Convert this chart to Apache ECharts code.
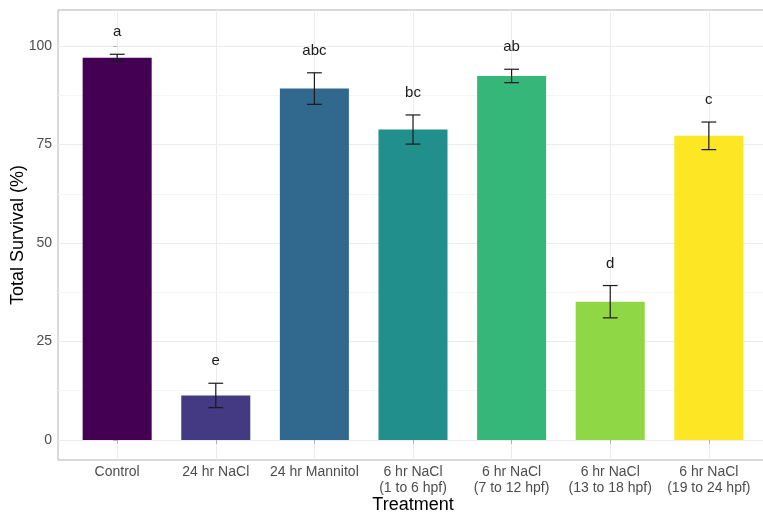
<!DOCTYPE html>
<html>
<head>
<meta charset="utf-8">
<script src="https://cdn.jsdelivr.net/npm/echarts@6/dist/echarts.min.js"></script>
<style>
html,body{margin:0;padding:0;background:#fff;}
#chart{width:763px;height:514px;}
</style>
</head>
<body>
<div id="chart"></div>
<script>
const categories = ['Control', '24 hr NaCl', '24 hr Mannitol', '6 hr NaCl\n(1 to 6 hpf)', '6 hr NaCl\n(7 to 12 hpf)', '6 hr NaCl\n(13 to 18 hpf)', '6 hr NaCl\n(19 to 24 hpf)'];
const survival = [97.0, 11.3, 89.2, 78.8, 92.4, 35.1, 77.2];
const stdErr = [0.9, 3.1, 4.0, 3.7, 1.7, 4.1, 3.5];
const letters = ['a', 'e', 'abc', 'bc', 'ab', 'd', 'c'];
const colors = ['#440154', '#443983', '#31688E', '#21908C', '#35B779', '#8FD744', '#FDE725'];
const yTicks = [0, 25, 50, 75, 100];
const yMinorTicks = [12.5, 37.5, 62.5, 87.5];

const FONT = 'Liberation Sans, Arial, sans-serif';
const idx = categories.map((c, i) => i);
const barData = survival.map((v, i) => [i, v]);
const errData = survival.map((v, i) => [i, v - stdErr[i], v + stdErr[i]]);

const chart = echarts.init(document.getElementById('chart'), null, {renderer: 'canvas'});
chart.setOption({
  animation: false,
  backgroundColor: '#ffffff',
  grid: {left: 58, right: -5, top: 10, bottom: 54, show: true, borderColor: '#b3b3b3', borderWidth: 1, containLabel: false, outerBoundsMode: 'none'},
  xAxis: {
    type: 'value', min: -0.6, max: 6.6,
    name: 'Treatment', nameLocation: 'middle', nameGap: 36, nameMoveOverlap: false,
    nameTextStyle: {fontSize: 18, color: '#000', fontFamily: FONT},
    axisLine: {show: false},
    axisTick: {show: true, customValues: idx, length: 4, lineStyle: {color: '#b3b3b3'}},
    axisLabel: {customValues: idx, formatter: v => categories[Math.round(v)], fontSize: 14, lineHeight: 16, margin: 4, color: '#4d4d4d', fontFamily: FONT},
    splitLine: {show: true, lineStyle: {color: '#ebebeb', width: 1}}
  },
  yAxis: {
    type: 'value', min: -5.08, max: 109.14,
    name: 'Total Survival (%)', nameLocation: 'middle', nameGap: 31, nameRotate: 90, nameMoveOverlap: false,
    nameTextStyle: {fontSize: 18, color: '#000', fontFamily: FONT},
    axisLine: {show: false},
    axisTick: {show: true, customValues: yTicks, length: 4, lineStyle: {color: '#b3b3b3'}},
    axisLabel: {customValues: yTicks, fontSize: 14, margin: 6, color: '#4d4d4d', fontFamily: FONT},
    splitLine: {show: true, lineStyle: {color: '#ebebeb', width: 1}}
  },
  series: [
    {
      type: 'custom',
      name: 'minor',
      data: [],
      renderItem: () => null,
      z: 0,
      markLine: {
        silent: true, symbol: 'none', label: {show: false}, z: 0, animation: false,
        lineStyle: {color: '#f4f4f4', width: 1, type: 'solid'},
        data: yMinorTicks.map(v => ({yAxis: v}))
      }
    },
    {
      type: 'custom',
      name: 'bars',
      data: barData,
      encode: {x: 0, y: 1},
      renderItem: function (params, api) {
        const i = api.value(0), v = api.value(1);
        const p1 = api.coord([i - 0.35, v]);
        const p2 = api.coord([i + 0.35, 0]);
        return {type: 'rect', shape: {x: p1[0], y: p1[1], width: p2[0] - p1[0], height: p2[1] - p1[1]}, style: {fill: colors[i]}};
      },
      z: 3
    },
    {
      type: 'custom',
      name: 'err',
      data: errData,
      encode: {x: 0, y: [1, 2]},
      renderItem: function (params, api) {
        const i = api.value(0), lo = api.value(1), hi = api.value(2);
        const pl = api.coord([i, lo]);
        const ph = api.coord([i, hi]);
        const hw = api.size([0.075, 0])[0];
        const st = {stroke: '#1a1a1a', lineWidth: 1.2};
        return {type: 'group', children: [
          {type: 'line', shape: {x1: pl[0], y1: pl[1], x2: ph[0], y2: ph[1]}, style: st},
          {type: 'line', shape: {x1: pl[0] - hw, y1: pl[1], x2: pl[0] + hw, y2: pl[1]}, style: st},
          {type: 'line', shape: {x1: ph[0] - hw, y1: ph[1], x2: ph[0] + hw, y2: ph[1]}, style: st},
          {type: 'text', x: ph[0], y: ph[1] - 22, style: {text: letters[i], align: 'center', verticalAlign: 'middle', fontSize: 15, fill: '#1a1a1a', fontFamily: FONT}}
        ]};
      },
      z: 4
    }
  ]
});
</script>
</body>
</html>
